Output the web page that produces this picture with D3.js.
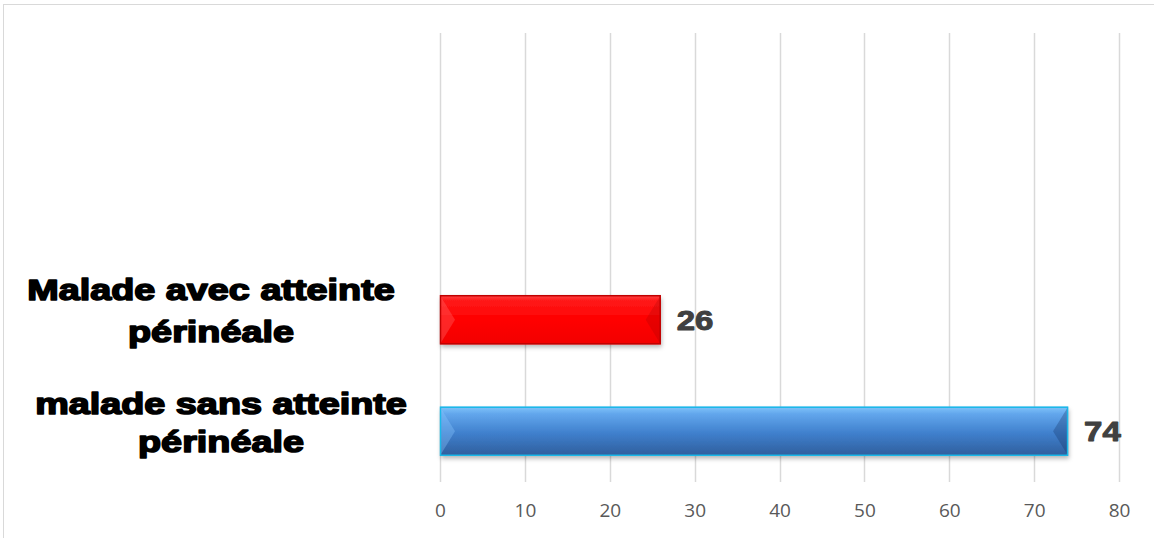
<!DOCTYPE html>
<html>
<head>
<meta charset="utf-8">
<script src="https://cdn.jsdelivr.net/npm/d3@7"></script>
<style>
  html, body { margin: 0; padding: 0; background: #fff; }
  svg { display: block; }
</style>
</head>
<body>
<svg id="chart" width="1154" height="538"></svg>
<script>
// Patients with / without perineal involvement
const categories = ["Malade avec atteinte périnéale", "malade sans atteinte périnéale"];
const categoryLines = [["Malade avec atteinte", "périnéale"], ["malade sans atteinte", "périnéale"]];
const values = [26, 74];
const xTicks = [0, 10, 20, 30, 40, 50, 60, 70, 80];

const W = 1154, H = 538;
const svg = d3.select("#chart");

// outer chart frame
svg.append("rect")
  .attr("x", 3.5).attr("y", 4.5)
  .attr("width", W + 10).attr("height", H + 10)
  .attr("fill", "none").attr("stroke", "#d9d9d9").attr("stroke-width", 1);

const plot = { left: 440, right: 1119, top: 33, bottom: 482 };

const x = d3.scaleLinear().domain([0, 80]).range([plot.left, plot.right]);
const y = d3.scaleBand().domain(categories).range([264, 487]).paddingInner(0.56).paddingOuter(0.28);

const defs = svg.append("defs");

// vertical shading for each bar
const gradStops = [
  [["0%", "#ff4a4a"], ["10%", "#ff1a1a"], ["50%", "#ff0000"], ["100%", "#f20000"]],
  [["0%", "#80c4fa"], ["15%", "#62a6ec"], ["55%", "#3f7fcc"], ["100%", "#2f5e9c"]]
];
gradStops.forEach((stops, i) => {
  const g = defs.append("linearGradient").attr("id", "barGrad" + i)
    .attr("x1", 0).attr("y1", 0).attr("x2", 0).attr("y2", 1);
  stops.forEach(s => g.append("stop").attr("offset", s[0]).attr("stop-color", s[1]));
});

const shadow = defs.append("filter").attr("id", "barShadow")
  .attr("x", "-5%").attr("y", "-20%").attr("width", "110%").attr("height", "160%");
shadow.append("feDropShadow").attr("dx", 1).attr("dy", 3).attr("stdDeviation", 2)
  .attr("flood-color", "#000").attr("flood-opacity", 0.28);

// vertical gridlines
svg.append("g").selectAll("line").data(xTicks).join("line")
  .attr("x1", d => Math.round(x(d)) + 0.5).attr("x2", d => Math.round(x(d)) + 0.5)
  .attr("y1", plot.top).attr("y2", plot.bottom)
  .attr("stroke", "#d9d9d9").attr("stroke-width", 1.5);

// x axis tick labels
const xAxis = d3.axisBottom(x).tickValues(xTicks).tickSize(0).tickPadding(0);
const ax = svg.append("g").attr("transform", `translate(0,${plot.bottom + 21})`).call(xAxis);
ax.select(".domain").remove();
ax.selectAll("text")
  .attr("font-family", "'Open Sans', sans-serif")
  .attr("font-size", 19)
  .attr("fill", "#595959");

const strokeCols = ["#c00000", "#1ab8e8"];
const bevelLight = ["rgba(255,110,110,0.35)", "rgba(140,200,255,0.35)"];
const bevelDark = ["rgba(150,0,0,0.22)", "rgba(20,50,100,0.3)"];

const bars = svg.append("g").selectAll("g").data(categories).join("g");

bars.each(function(c, i) {
  const g = d3.select(this);
  const x0 = x(0), x1 = x(values[i]);
  const y0 = y(c), y1 = y(c) + y.bandwidth(), ym = (y0 + y1) / 2;
  const b = 15;

  g.append("rect")
    .attr("x", x0).attr("y", y0)
    .attr("width", x1 - x0).attr("height", y1 - y0)
    .attr("fill", `url(#barGrad${i})`)
    .attr("filter", "url(#barShadow)");

  // bevelled ends
  g.append("path")
    .attr("d", `M${x0},${y0}L${x0 + b},${ym}L${x0},${y1}Z`)
    .attr("fill", bevelLight[i]);
  g.append("path")
    .attr("d", `M${x1},${y0}L${x1 - b},${ym}L${x1},${y1}Z`)
    .attr("fill", bevelDark[i]);

  g.append("rect")
    .attr("x", x0 + 0.5).attr("y", y0 + 0.5)
    .attr("width", x1 - x0 - 1).attr("height", y1 - y0 - 1)
    .attr("fill", "none").attr("stroke", strokeCols[i]).attr("stroke-width", 1.5);

  // value label (heavy face, widened)
  g.append("text")
    .attr("transform", `translate(${x1 + 16},${ym + 10}) scale(1.22,1)`)
    .attr("font-family", "'Liberation Sans', Arial, sans-serif")
    .attr("font-weight", "bold")
    .attr("font-size", 27)
    .attr("fill", "#404040")
    .attr("stroke", "#404040").attr("stroke-width", 1)
    .attr("stroke-linejoin", "round")
    .text(values[i]);
});

// category labels (heavy face, widened)
const labelCx = [211, 221];
const labelBase = [[300, 342], [414, 452]];
categories.forEach((c, i) => {
  const t = svg.append("text")
    .attr("transform", `translate(${labelCx[i]},0) scale(1.26,1)`)
    .attr("text-anchor", "middle")
    .attr("font-family", "'Liberation Sans', Arial, sans-serif")
    .attr("font-weight", "bold")
    .attr("font-size", 30)
    .attr("fill", "#000")
    .attr("stroke", "#000").attr("stroke-width", 1.6)
    .attr("stroke-linejoin", "round");
  categoryLines[i].forEach((line, k) => {
    t.append("tspan").attr("x", 0).attr("y", labelBase[i][k]).text(line);
  });
});
</script>
</body>
</html>
